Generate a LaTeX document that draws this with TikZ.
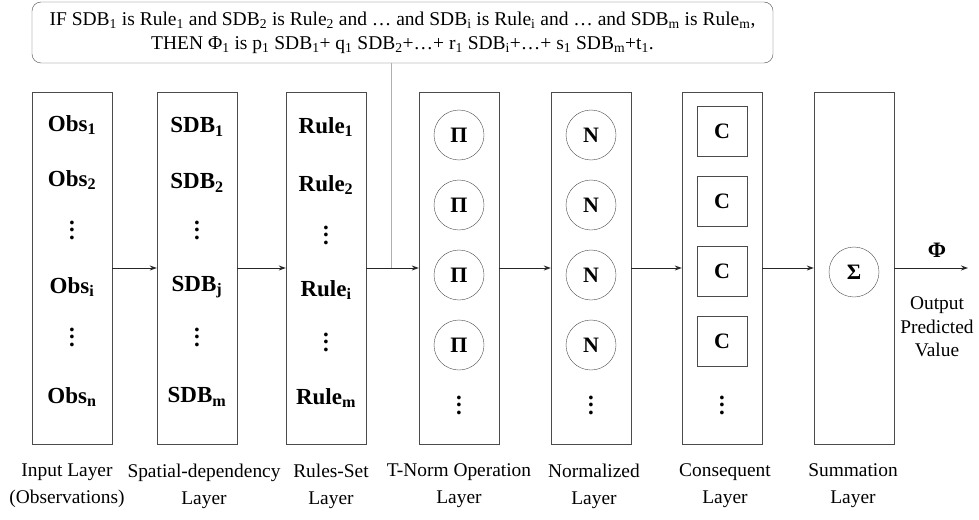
\documentclass[tikz,border=0pt]{standalone}
\usepackage{fontspec}
\setmainfont{Liberation Serif}
\usetikzlibrary{arrows.meta, positioning}

\definecolor{boxgray}{RGB}{75,75,75}
\definecolor{linkgray}{RGB}{175,175,175}
\newcommand{\coldots}{\vbox{\baselineskip7.5pt\lineskiplimit0pt\hbox{.}\hbox{.}\hbox{.}}}

\tikzset{
  layer/.style={draw=boxgray, minimum width=80pt, minimum height=352pt, inner sep=0pt},
  item/.style={font=\fontsize{23}{23}\selectfont\bfseries, inner sep=0pt},
  opnode/.style={circle, draw=boxgray, minimum size=50pt, inner sep=0pt, font=\fontsize{22}{22}\selectfont\bfseries},
  cnode/.style={draw=boxgray, minimum size=50pt, inner sep=0pt, font=\fontsize{22}{22}\selectfont\bfseries},
  lbl/.style={align=center, font=\fontsize{19.4}{27}\selectfont},
  link/.style={->, draw=black!85, line width=0.9pt}
}

\begin{document}
\begin{tikzpicture}[x=1pt, y=1pt, >={Stealth[length=7pt,width=5pt]}, on grid]
    \useasboundingbox (0,0) rectangle (979,-519);
    % rule box
    \node[draw=boxgray, rounded corners=9pt, minimum width=741pt, minimum height=61pt,
          align=center, font=\fontsize{19.5}{24}\selectfont] (rule) at (402.5,-32.5)
      {IF SDB\textsubscript{1} is Rule\textsubscript{1} and SDB\textsubscript{2} is Rule\textsubscript{2} and \dots{} and  SDB\textsubscript{i} is Rule\textsubscript{i} and \dots{} and  SDB\textsubscript{m} is Rule\textsubscript{m},\\
       THEN Φ\textsubscript{1} is p\textsubscript{1} SDB\textsubscript{1}+ q\textsubscript{1} SDB\textsubscript{2}+\dots+ r\textsubscript{1} SDB\textsubscript{i}+\dots+ s\textsubscript{1} SDB\textsubscript{m}+t\textsubscript{1}.};

    % layers
    \node[layer] (inp) at (72,-268) {};
    \node[layer] (sdl) [right=125pt of inp] {};
    \node[layer] (rsl) [right=129pt of sdl] {};
    \node[layer] (tnl) [right=133pt of rsl] {};
    \node[layer] (nrl) [right=132pt of tnl] {};
    \node[layer] (csl) [right=131pt of nrl] {};
    \node[layer] (sml) [right=132pt of csl] {};

    % layer contents
    \foreach \t/\y [count=\k] in {Obs\textsubscript{1}/125, Obs\textsubscript{2}/180, \coldots/230,
        Obs\textsubscript{i}/287, \coldots/337, Obs\textsubscript{n}/397}
      \node[item] (obs\k) at (72,-\y) {\t};
    \foreach \t/\y [count=\k] in {SDB\textsubscript{1}/127, SDB\textsubscript{2}/183, \coldots/230,
        SDB\textsubscript{j}/287, \coldots/337, SDB\textsubscript{m}/397}
      \node[item] (sdb\k) at (197,-\y) {\t};
    \foreach \t/\y [count=\k] in {Rule\textsubscript{1}/127, Rule\textsubscript{2}/185, \coldots/235,
        Rule\textsubscript{i}/290, \coldots/342, Rule\textsubscript{m}/398}
      \node[item] (rul\k) at (326,-\y) {\t};
    \foreach \y [count=\k] in {135,205,275,345} {
      \node[opnode] (pi\k) at (459,-\y) {Π};
      \node[opnode] (nn\k) at (591,-\y) {N};
      \node[cnode] (cc\k) at (722,-\y+4) {C};
    }
    \node[item] (pidots) at (459,-405) {\coldots};
    \node[item] (nndots) at (591,-405) {\coldots};
    \node[item] (ccdots) at (722,-405) {\coldots};
    \node[opnode] (sum) at (854,-272) {Σ};

    % connections
    \coordinate (join) at (391,-268);
    \coordinate (out) at (968,-268);
    \draw[draw=linkgray, line width=0.9pt] (rule.south -| join) -- (join);
    \draw[link] (inp) -- (sdl);
    \draw[link] (sdl) -- (rsl);
    \draw[link] (rsl) -- (tnl);
    \draw[link] (tnl) -- (nrl);
    \draw[link] (nrl) -- (csl);
    \draw[link] (csl) -- (sml);
    \draw[link] (sml) -- (out);
    \node[item, font=\fontsize{22}{22}\selectfont\bfseries] (phi) at (937,-250) {Φ};
    \node[lbl, font=\fontsize{19.4}{23.5}\selectfont] (outlbl) at (937,-327) {Output\\Predicted\\Value};

    % layer names
    \node[lbl] (inpname) at (67,-486) {Input Layer\\(Observations)};
    \node[lbl] (sdlname) at (204,-486) {Spatial-dependency\\Layer};
    \node[lbl] (rslname) at (331,-486) {Rules-Set\\Layer};
    \node[lbl] (tnlname) at (459,-486) {T-Norm Operation\\Layer};
    \node[lbl] (nrlname) at (594,-486) {Normalized\\Layer};
    \node[lbl] (cslname) at (725,-486) {Consequent\\Layer};
    \node[lbl] (smlname) at (853,-486) {Summation\\Layer};
\end{tikzpicture}
\end{document}
